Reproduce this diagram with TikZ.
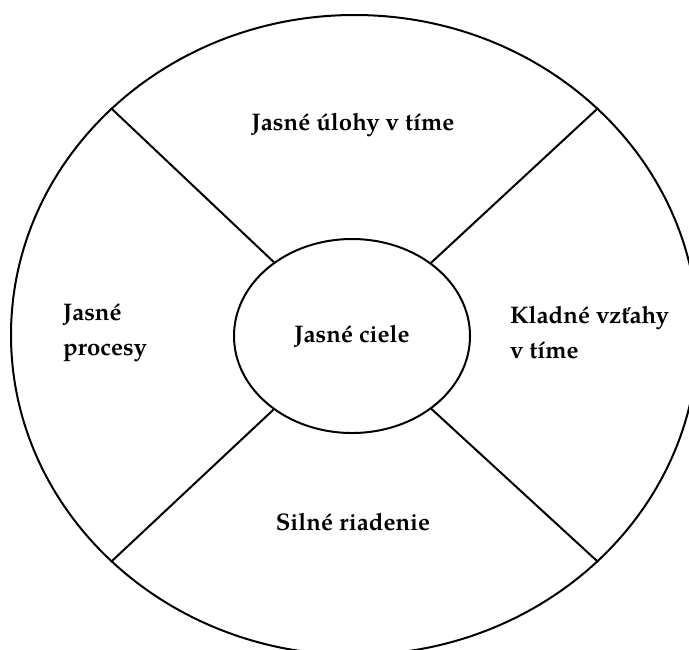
\documentclass[tikz,border=0pt]{standalone}
\usepackage{fontspec}
\setmainfont{TeX Gyre Pagella}
\usetikzlibrary{shapes.geometric}

\begin{document}
\begin{tikzpicture}[x=0.5pt, y=-0.5pt,
                    line width=1pt,
                    font=\fontsize{12}{17.5}\selectfont\bfseries,
                    ring/.style={draw,
                                 ellipse,
                                 inner sep=0pt},
                    label/.style={inner sep=0pt,
                                  align=left,
                                  anchor=west}]
	\useasboundingbox (0,0) rectangle (689,649);
	\node [ring, minimum width=343.5pt, minimum height=320pt] (Wheel) at (354.5,335) {};
	\node [ring, minimum width=118pt, minimum height=97pt] (Goals) at (352,336) {Jasné ciele};

	\draw (Wheel.north west) -- (Goals);
	\draw (Wheel.north east) -- (Goals);
	\draw (Wheel.south west) -- (Goals);
	\draw (Wheel.south east) -- (Goals);

	\node (Tasks) at (353,125) {Jasné úlohy v tíme};
	\node [label] (Processes) at (62,333) {Jasné\\procesy};
	\node [label] (Relations) at (509,333) {Kladné vzťahy\\v tíme};
	\node (Leadership) at (353,522) {Silné riadenie};
\end{tikzpicture}
\end{document}
